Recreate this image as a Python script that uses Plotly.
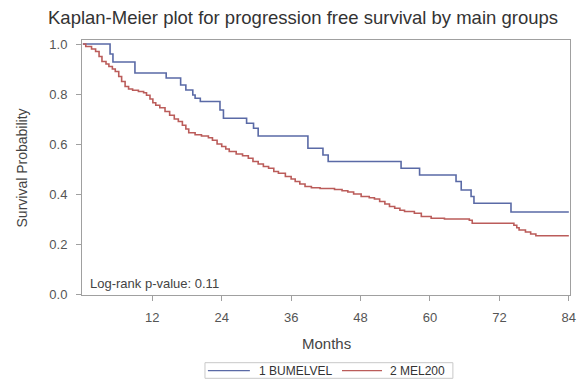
import plotly.graph_objects as go

# Kaplan-Meier step estimates (months, survival probability after each event)
bumelvel_months = [0, 4.7, 5.2, 9.0, 14.4, 16.9, 17.8, 19.0, 19.4, 20.3, 23.7, 24.3,
                   28.3, 29.5, 30.3, 38.9, 41.5, 42.4, 55.0, 58.2, 64.5, 65.4, 67.1,
                   67.6, 74.0, 84.0]
bumelvel_surv = [1.0, 0.96, 0.928, 0.884, 0.864, 0.836, 0.816, 0.796, 0.783, 0.77,
                 0.736, 0.703, 0.683, 0.663, 0.632, 0.583, 0.556, 0.53, 0.503, 0.476,
                 0.45, 0.416, 0.39, 0.363, 0.328, 0.328]

mel200_months = [0, 0.5, 1.5, 2.2, 2.8, 3.3, 4.0, 4.5, 5.1, 5.6, 6.2, 6.7, 7.3, 7.9,
                 8.6, 9.6, 10.5, 11.0, 11.6, 12.1, 12.6, 13.3, 14.2, 15.0, 15.8, 16.5,
                 17.2, 17.8, 18.3, 19.4, 20.5, 21.7, 22.4, 23.2, 24.0, 24.7, 25.3,
                 26.5, 27.6, 28.6, 29.4, 30.3, 31.2, 32.1, 33.0, 33.8, 35.0, 36.0,
                 36.7, 37.5, 38.4, 39.5, 41.0, 43.5, 44.8, 45.8, 46.8, 48.1, 49.5,
                 50.4, 51.3, 52.2, 53.0, 53.9, 54.8, 55.6, 57.3, 58.5, 60.2, 62.5,
                 66.8, 67.3, 74.5, 75.0, 75.4, 76.5, 77.4, 78.3, 84.0]
mel200_surv = [1.0, 0.99, 0.98, 0.97, 0.95, 0.93, 0.92, 0.91, 0.90, 0.89, 0.87, 0.85,
               0.83, 0.82, 0.815, 0.81, 0.805, 0.795, 0.78, 0.765, 0.755, 0.745, 0.73,
               0.715, 0.70, 0.69, 0.675, 0.66, 0.645, 0.637, 0.632, 0.625, 0.615, 0.60,
               0.59, 0.58, 0.57, 0.56, 0.553, 0.543, 0.53, 0.52, 0.51, 0.503, 0.49,
               0.483, 0.47, 0.46, 0.45, 0.44, 0.43, 0.425, 0.422, 0.418, 0.413, 0.408,
               0.40, 0.39, 0.385, 0.38, 0.37, 0.36, 0.35, 0.343, 0.335, 0.33, 0.323,
               0.31, 0.303, 0.30, 0.295, 0.283, 0.275, 0.265, 0.256, 0.248, 0.24,
               0.233, 0.233]

group_names = ["1 BUMELVEL", "2 MEL200"]
group_colors = ["#5a6aa6", "#bb5c5a"]
x_ticks = [12, 24, 36, 48, 60, 72, 84]
y_ticks = [0.0, 0.2, 0.4, 0.6, 0.8, 1.0]

FONT = "Liberation Sans, Arial, sans-serif"
AXIS_GRAY = "#a0a0a0"

fig = go.Figure()
for months, surv, name, color in [(bumelvel_months, bumelvel_surv, group_names[0], group_colors[0]),
                                  (mel200_months, mel200_surv, group_names[1], group_colors[1])]:
    fig.add_trace(go.Scatter(x=months, y=surv, mode="lines",
                             line=dict(shape="hv", color=color, width=1.6),
                             name=name, showlegend=False))

fig.update_layout(
    width=577, height=379,
    margin=dict(l=82, r=7, t=40, b=84, autoexpand=False),
    paper_bgcolor="white", plot_bgcolor="white",
    font=dict(family=FONT, color="#444444"),
    showlegend=False,
)
fig.update_xaxes(range=[-0.15, 84.2], tickvals=x_ticks,
                 ticks="outside", ticklen=5, tickcolor=AXIS_GRAY,
                 ticklabelstandoff=5,
                 showline=True, linecolor=AXIS_GRAY, mirror=True,
                 showgrid=False, zeroline=False,
                 tickfont=dict(size=13, color="#555555"))
fig.update_yaxes(range=[-0.004, 1.016], tickvals=y_ticks, tickformat=".1f",
                 ticks="outside", ticklen=5, tickcolor=AXIS_GRAY,
                 ticklabelstandoff=6,
                 showline=True, linecolor=AXIS_GRAY, mirror=True,
                 showgrid=False, zeroline=False,
                 tickfont=dict(size=13, color="#555555"))

# Titles and the log-rank note
fig.add_annotation(text="Kaplan-Meier plot for progression free survival by main groups",
                   xref="paper", yref="paper", x=0.453, y=1.09,
                   xanchor="center", yanchor="middle",
                   showarrow=False, font=dict(size=18.5, color="#333333"))
fig.add_annotation(text="Months", xref="paper", yref="paper", x=0.5, y=-0.19,
                   xanchor="center", yanchor="middle",
                   showarrow=False, font=dict(size=15, color="#444444"))
fig.add_annotation(text="Survival Probability", xref="paper", yref="paper",
                   x=-0.123, y=0.5, textangle=-90, xanchor="center", yanchor="middle",
                   showarrow=False, font=dict(size=14, color="#444444"))
fig.add_annotation(text="Log-rank p-value: 0.11", xref="paper", yref="paper",
                   x=0.012, y=0.047, xanchor="left", yanchor="middle",
                   showarrow=False, font=dict(size=13, color="#444444"))

# Compact legend box below the axis title
fig.add_shape(type="rect", xref="paper", yref="paper",
              x0=0.252, x1=0.760, y0=-0.3267, y1=-0.2655,
              line=dict(color="#c8c8c8", width=1), fillcolor="white")
legend_slots = [(0.258, 0.344, 0.3586), (0.5328, 0.6148, 0.627)]
for (lx0, lx1, tx), name, color in zip(legend_slots, group_names, group_colors):
    fig.add_shape(type="line", xref="paper", yref="paper",
                  x0=lx0, x1=lx1, y0=-0.2969, y1=-0.2969,
                  line=dict(color=color, width=1.3))
    fig.add_annotation(text=name, xref="paper", yref="paper", x=tx, y=-0.2969,
                       xanchor="left", yanchor="middle", showarrow=False,
                       font=dict(size=12, color="#333333"))

fig.write_html("out.html")
